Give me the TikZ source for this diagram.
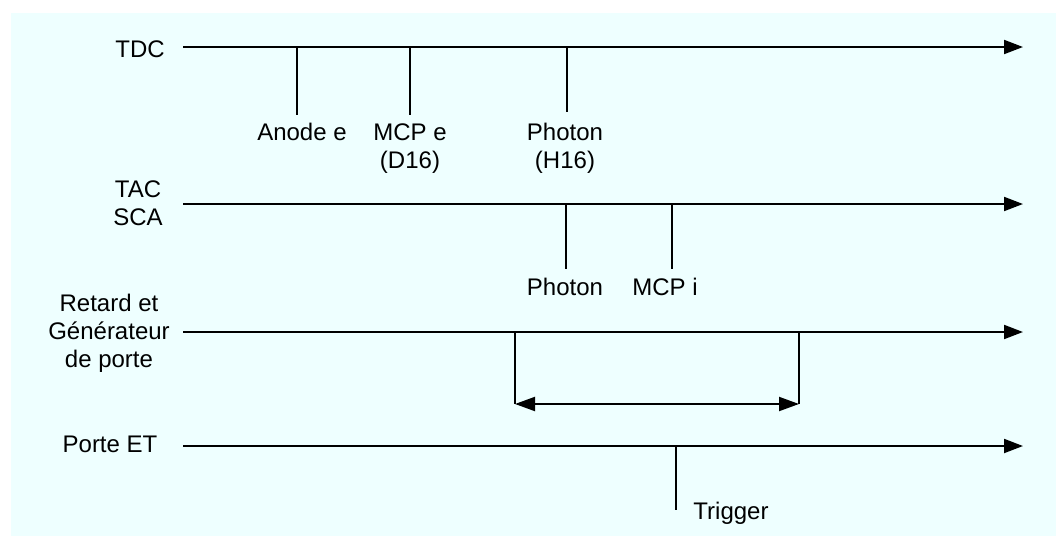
\documentclass[tikz,border=0pt]{standalone}
\usepackage{fontspec}
\setmainfont{Liberation Sans}
\usetikzlibrary{arrows.meta}
\definecolor{bg}{RGB}{238,255,255}
\begin{document}
\begin{tikzpicture}[x=0.5pt,y=-0.5pt,
  lbl/.style={inner sep=0pt,anchor=base,align=center,font=\fontsize{12}{14}\selectfont},
  axis/.style={line width=1pt,-{Triangle[length=9.5pt,width=7pt]}},
  tick/.style={line width=1pt},
  span/.style={line width=1pt,{Triangle[length=10pt,width=7pt]}-{Triangle[length=10pt,width=7pt]}}]
\useasboundingbox (0,0) rectangle (1056,536);
\fill[bg] (11,13) rectangle (1056,536);
% labels (base anchor = baseline of the last line)
\node[lbl] (tdc) at (140,57) {TDC};
\node[lbl] (tac) at (138,225) {TAC\\SCA};
\node[lbl] (ret) at (109,367) {Retard et\\Générateur\\de porte};
\node[lbl] (pet) at (110,452) {Porte ET};
\node[lbl] (anode) at (302,140) {Anode e};
\node[lbl] (mcpe) at (410,168) {MCP e\\(D16)};
\node[lbl] (ph1) at (565,168) {Photon\\(H16)};
\node[lbl] (ph2) at (565,295) {Photon};
\node[lbl] (mcpi) at (665,295) {MCP i};
\node[lbl] (trig) at (731,519) {Trigger};
% axis coordinates
\coordinate (l1s) at (183,47);  \coordinate (l1e) at (1023,47);
\coordinate (l2s) at (183,204); \coordinate (l2e) at (1023,204);
\coordinate (l3s) at (183,332); \coordinate (l3e) at (1023,332);
\coordinate (l4s) at (183,446); \coordinate (l4e) at (1023,446);
% tick coordinates
\coordinate (t1a) at (297,47);  \coordinate (t1b) at (297,115);
\coordinate (t2a) at (410,47);  \coordinate (t2b) at (410,115);
\coordinate (t3a) at (567,47);  \coordinate (t3b) at (567,112);
\coordinate (t4a) at (566,204); \coordinate (t4b) at (566,269);
\coordinate (t5a) at (672,204); \coordinate (t5b) at (672,269);
\coordinate (t6a) at (676,446); \coordinate (t6b) at (676,510);
\coordinate (g1a) at (515,332); \coordinate (g1b) at (515,404);
\coordinate (g2a) at (799,332); \coordinate (g2b) at (799,404);
% axes
\draw[axis] (l1s) -- (l1e);
\draw[axis] (l2s) -- (l2e);
\draw[axis] (l3s) -- (l3e);
\draw[axis] (l4s) -- (l4e);
% ticks
\draw[tick] (t1a) -- (t1b);
\draw[tick] (t2a) -- (t2b);
\draw[tick] (t3a) -- (t3b);
\draw[tick] (t4a) -- (t4b);
\draw[tick] (t5a) -- (t5b);
\draw[tick] (t6a) -- (t6b);
% gate
\draw[tick] (g1a) -- (g1b);
\draw[tick] (g2a) -- (g2b);
\draw[span] (g1b) -- (g2b);
\end{tikzpicture}
\end{document}
